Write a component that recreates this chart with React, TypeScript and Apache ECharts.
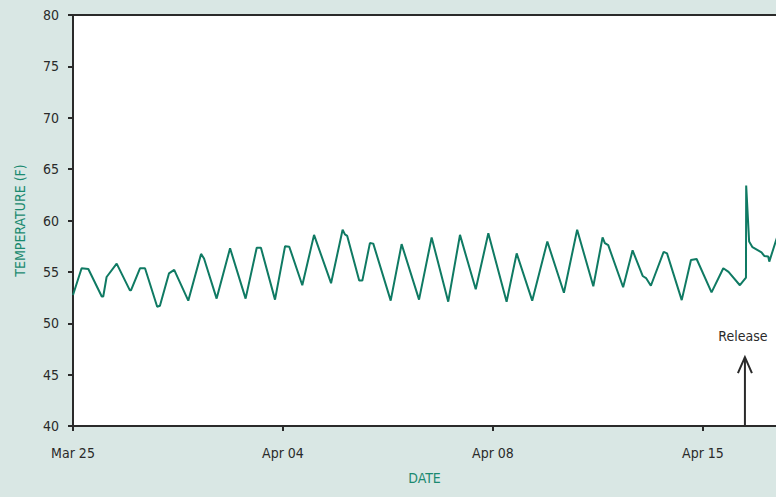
import React, { useEffect, useRef } from "react";
import * as echarts from "echarts";

// x positions in axis units (label ticks at 0, 10, 20, 30)
const xPos = [
  0, 0.41, 0.73, 1.37, 1.44, 1.6, 2.08, 2.71, 2.76, 3.19, 3.43, 4.01, 4.14, 4.57, 4.82, 5.49,
  6.1, 6.24, 6.84, 7.48, 8.22, 8.75, 8.95, 9.62, 10.1, 10.3, 10.92, 11.48, 12.29, 12.84, 12.95,
  13.06, 13.63, 13.78, 14.14, 14.3, 15.13, 15.65, 16.48, 17.08, 17.87, 18.43, 19.18, 19.78,
  20.65, 21.13, 21.87, 22.59, 23.38, 24.01, 24.78, 25.22, 25.33, 25.49, 26.2, 26.65, 27.13,
  27.29, 27.52, 28.13, 28.29, 28.99, 29.43, 29.7, 30.41, 30.97, 31.22, 31.76, 32.05, 32.06,
  32.2, 32.36, 32.79, 32.92, 33.11, 33.16, 33.48, 33.9,
];
const temperatures = [
  52.75, 55.35, 55.28, 52.6, 52.6, 54.5, 55.8, 53.2, 53.2, 55.35, 55.35, 51.6, 51.7, 54.85, 55.2,
  52.2, 56.75, 56.3, 52.4, 57.3, 52.4, 57.35, 57.35, 52.3, 57.5, 57.45, 53.7, 58.6, 53.9, 59.1,
  58.65, 58.5, 54.15, 54.15, 57.8, 57.75, 52.2, 57.7, 52.3, 58.35, 52.1, 58.6, 53.3, 58.75, 52.1,
  56.8, 52.2, 57.95, 52.97, 59.1, 53.6, 58.35, 57.8, 57.6, 53.5, 57.1, 54.6, 54.4, 53.65, 56.95,
  56.8, 52.25, 56.15, 56.25, 53.0, 55.35, 55.0, 53.7, 54.45, 63.4, 57.95, 57.4, 56.9, 56.55,
  56.5, 56.0, 58.05, 60.5,
];
const tickValues = [0, 10, 20, 30];
const tickLabels = ["Mar 25", "Apr 04", "Apr 08", "Apr 15"];
const xMax = 33.48;
const yMin = 40;
const yMax = 80;
const yStep = 5;
const releaseX = 32.0;
const releaseTipValue = 46.7;
const releaseLabel = "Release";

const FONT = "'Liberation Sans Narrow', 'DejaVu Sans Condensed', sans-serif";
const FS = 14;
const INK = "#2a2a2a";
const GREEN = "#0f7a63";
const NAME_GREEN = "#1b8a70";

export default function App() {
  const ref = useRef<HTMLDivElement>(null);
  useEffect(() => {
    document.body.style.margin = "0";
    const chart = echarts.init(ref.current!, null, { renderer: "svg" });
    const axisLine = { show: true, lineStyle: { color: INK, width: 2 } };
    chart.setOption({
      animation: false,
      backgroundColor: "#d9e7e4",
      grid: {
        left: 73,
        right: 0,
        top: 15,
        bottom: 71,
        show: true,
        backgroundColor: "#ffffff",
        borderWidth: 0,
      },
      xAxis: [
        {
          type: "value",
          min: 0,
          max: xMax,
          interval: 10,
          name: "DATE",
          nameLocation: "middle",
          nameGap: 45,
          nameTextStyle: { color: NAME_GREEN, fontFamily: FONT, fontSize: FS },
          axisLine,
          axisTick: { show: true, length: 5, customValues: tickValues, lineStyle: { color: INK, width: 2 } },
          axisLabel: {
            customValues: tickValues,
            margin: 20,
            color: INK,
            fontFamily: FONT,
            fontSize: FS,
            formatter: (v: number) => {
              const i = tickValues.indexOf(Math.round(v));
              return i >= 0 ? tickLabels[i] : "";
            },
          },
          splitLine: { show: false },
        },
        {
          type: "value",
          position: "top",
          min: 0,
          max: xMax,
          axisLine,
          axisTick: { show: false },
          axisLabel: { show: false },
          splitLine: { show: false },
        },
      ],
      yAxis: {
        type: "value",
        min: yMin,
        max: yMax,
        interval: yStep,
        name: "TEMPERATURE (F)",
        nameLocation: "middle",
        nameGap: 46,
        nameTextStyle: { color: NAME_GREEN, fontFamily: FONT, fontSize: FS },
        axisLine,
        axisTick: { show: true, length: 5, lineStyle: { color: INK, width: 2 } },
        axisLabel: { margin: 14, color: INK, fontFamily: FONT, fontSize: FS },
        splitLine: { show: false },
      },
      series: [
        {
          type: "line",
          xAxisIndex: 0,
          data: xPos.map((x, i) => [x, temperatures[i]]),
          symbol: "none",
          clip: true,
          lineStyle: { color: GREEN, width: 2 },
        },
      ],
    });
    const base = chart.convertToPixel({ gridIndex: 0 }, [releaseX, yMin]) as number[];
    const tip = chart.convertToPixel({ gridIndex: 0 }, [releaseX, releaseTipValue]) as number[];
    const s = { stroke: INK, lineWidth: 2, fill: "none" };
    chart.setOption({
      graphic: [
        { type: "line", shape: { x1: base[0], y1: base[1], x2: tip[0], y2: tip[1] }, style: s, z: 100 },
        {
          type: "polyline",
          shape: { points: [[tip[0] - 7, tip[1] + 16], [tip[0], tip[1]], [tip[0] + 7, tip[1] + 16]] },
          style: s,
          z: 100,
        },
        {
          type: "text",
          x: tip[0] - 2,
          y: tip[1] - 21,
          style: {
            text: releaseLabel,
            fill: INK,
            font: `${FS}px ${FONT}`,
            align: "center",
            verticalAlign: "middle",
          },
          z: 100,
        },
      ],
    });
    return () => chart.dispose();
  }, []);
  return <div ref={ref} style={{ position: "absolute", left: 0, top: 0, width: 776, height: 497 }} />;
}
